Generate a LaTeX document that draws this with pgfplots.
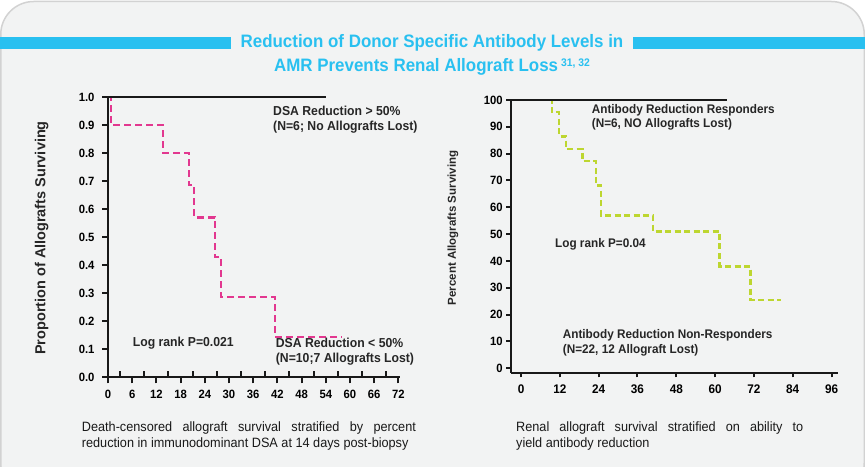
\documentclass[border=0pt]{standalone}
\usepackage{pgfplots}
\pgfplotsset{compat=1.18}
\usepackage{fontspec}
\setmainfont{Liberation Sans}
\newfontfamily\cond[FakeStretch=0.94]{Liberation Sans}
\definecolor{panel}{HTML}{F2F3F3}
\definecolor{frame}{HTML}{D2D2D2}
\definecolor{cyanbar}{HTML}{29C0F0}
\definecolor{kmpink}{HTML}{E2378F}
\definecolor{kmgreen}{HTML}{BDD630}
\newcommand{\fs}[1]{\fontsize{#1}{#1}\selectfont}

\begin{document}
\begin{tikzpicture}[x=1pt,y=1pt]
\path[use as bounding box] (0,0) rectangle (865,466);
\fill[white] (0,0) rectangle (865,466);
\filldraw[fill=panel, draw=frame, line width=1.5pt, rounded corners=33pt] (0.75,-30) rectangle (864.25,464.5);

% title with side bars
\fill[cyanbar] (0,417.3) rectangle (231,429.3);
\fill[cyanbar] (633,417.3) rectangle (865,429.3);
\node[text=cyanbar, font=\cond\bfseries\fs{18}] at (432,423.3) {Reduction of Donor Specific Antibody Levels in};
\node[text=cyanbar, font=\cond\bfseries\fs{18}] at (432,399.3) {AMR Prevents Renal Allograft Loss\,\raisebox{0.55ex}{\fs{11}31, 32}};

% ---- left panel: DSA reduction ----
\begin{axis}[
  at={(108pt,88.7pt)}, anchor=south west,
  scale only axis, width=292pt, height=280pt,
  xmin=0, xmax=72.4, ymin=0, ymax=1,
  axis lines*=left,
  axis line style={line width=2.2pt, black!90},
  tick style={line width=2pt, black!90},
  tick align=outside, major tick length=6pt,
  xtick={0,6,...,72},
  ytick={0,0.1,0.2,0.3,0.4,0.5,0.6,0.7,0.8,0.9,1.0},
  yticklabels={0.0,0.1,0.2,0.3,0.4,0.5,0.6,0.7,0.8,0.9,1.0},
  extra x ticks={3,9,15,21,27,33,39,45,51,57,63,69},
  extra x tick labels={},
  extra x tick style={tick align=inside},
  /pgf/number format/assume math mode=true,
  xticklabel style={font=\cond\bfseries\fs{12}, yshift=-3pt},
  yticklabel style={font=\cond\bfseries\fs{12}, xshift=-4pt},
  clip=false,
]
\addplot[kmpink, line width=2.4pt, dash pattern=on 7pt off 4pt, const plot] coordinates {
  (0,1.0) (0.7,0.9) (13.6,0.8) (20.1,0.686) (21.3,0.571) (26.5,0.429)
  (28.0,0.286) (41.4,0.143) (57.8,0.143)
};
\addplot[black!90, line width=2.4pt] coordinates {(0,1.0) (54,1.0)};
\end{axis}

\node[rotate=90, font=\bfseries\fs{14.5}, text=black!85] at (41.7,228) {Proportion of Allografts Surviving};
\begin{scope}[every node/.style={anchor=west, inner sep=0pt, font=\cond\bfseries\fs{13}, text=black!85}]
\node at (273,355) {DSA Reduction > 50\%};
\node at (273,339) {(N=6; No Allografts Lost)};
\node at (132.7,123.3) {Log rank P=0.021};
\node at (275.7,123) {DSA Reduction < 50\%};
\node at (275.7,107) {(N=10;7 Allografts Lost)};
\end{scope}

% ---- right panel: responders vs non-responders ----
\begin{axis}[
  at={(510.7pt,93pt)}, anchor=south west,
  scale only axis, width=327.3pt, height=273pt,
  xmin=-3.2, xmax=98, ymin=-1.75, ymax=100,
  axis lines*=left,
  axis line style={line width=2.2pt, black!90},
  tick style={line width=2pt, black!90},
  tick align=outside, major tick length=4.5pt,
  xtick={0,12,...,96},
  ytick={0,10,...,100},
  /pgf/number format/assume math mode=true,
  xticklabel style={font=\cond\bfseries\fs{12.5}, yshift=-3.5pt},
  yticklabel style={font=\cond\bfseries\fs{12}},
  clip=false,
]
\addplot[kmgreen, line width=2.4pt, dash pattern=on 6pt off 3.5pt, const plot] coordinates {
  (0,100) (9.5,95.5) (11.8,86.4) (13.9,81.8) (19.0,77.3) (23.1,68.2)
  (24.8,57.0) (40.8,51.0) (61.4,38.0) (70.9,25.5) (80.4,25.5)
};
\addplot[black!90, line width=2.4pt] coordinates {(-3.2,100) (63.7,100)};
\end{axis}

\node[rotate=90, font=\bfseries\fs{11.5}, text=black!85] at (453,238) {Percent Allografts Surviving};
\begin{scope}[every node/.style={anchor=west, inner sep=0pt, font=\cond\bfseries\fs{12.5}, text=black!85}]
\node at (591.7,356) {Antibody Reduction Responders};
\node at (591.7,342) {(N=6, NO Allografts Lost)};
\node at (555,222) {Log rank P=0.04};
\node at (562.7,130.3) {Antibody Reduction Non-Responders};
\node at (562.7,116) {(N=22, 12 Allograft Lost)};
\end{scope}

% captions
\node[anchor=north west, inner sep=0pt, text width=334pt, align=justify,
      font=\cond\fontsize{13.5}{16}\selectfont, text=black!90] at (81.7,44.5)
  {\hyphenpenalty=10000 Death-censored allograft survival stratified by percent\linebreak reduction in immunodominant DSA at 14 days post-biopsy};
\node[anchor=north west, inner sep=0pt, text width=287pt, align=justify,
      font=\cond\fontsize{13.5}{16}\selectfont, text=black!90] at (516,44.5)
  {\hyphenpenalty=10000 Renal allograft survival stratified on ability to\linebreak yield antibody reduction};
\end{tikzpicture}
\end{document}
